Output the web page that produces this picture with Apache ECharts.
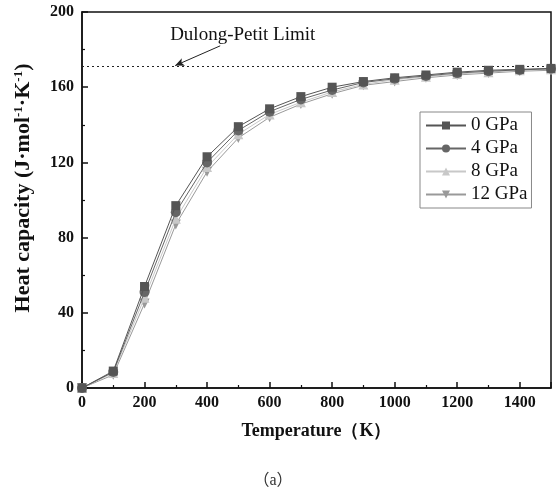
<!DOCTYPE html>
<html><head><meta charset="utf-8">
<script src="https://cdn.jsdelivr.net/npm/echarts@6/dist/echarts.min.js"></script>
<style>html,body{margin:0;padding:0;background:#fff}#c{width:560px;height:494px}</style>
</head><body><div id="c"></div>
<script>
const temps = [0,100,200,300,400,500,600,700,800,900,1000,1100,1200,1300,1400,1500];
const seriesNames = ['0 GPa','4 GPa','8 GPa','12 GPa'];
const cp0  = [0,9,54,97,123,139,148.5,155,160,163,165,166.5,168,169,169.5,170];
const cp4  = [0,8.5,51,93.5,120,137,147,153.5,158.5,162.5,164.5,166,167.5,168.5,169.2,169.8];
const cp8  = [0,8,48,90,117.5,135,145.5,152,157.5,161.5,164,165.5,167,168,169,169.5];
const cp12 = [0,7,45,87,115,133,144,151,156.5,161,163,165,166.5,167.5,168.5,169];
const dulongPetit = 171;
const arrowFrom = [442, 182];
const arrowTo = [298, 171.5];
const annotationText = 'Dulong-Petit Limit';
const annotationPos = [514, 187.5];

const colors = ['#555555','#666666','#c8c8c8','#999999'];
const symbols = ['rect','circle','triangle','path://M0,0 L10,0 L5,9 Z'];
const allData = [cp0,cp4,cp8,cp12];
const serif = '"Liberation Serif","Times New Roman",serif';

const series = allData.map((d,i)=>({
  name: seriesNames[i], type:'line',
  data: temps.map((t,j)=>[t,d[j]]),
  symbol: symbols[i], symbolSize: i===0?9:10,
  itemStyle:{color:colors[i]}, lineStyle:{color:colors[i],width:1},
  z: 10-i
}));
series.push({
  name:'annot', type:'line', data:[], silent:true,
  markLine:{silent:true, symbol:['none','none'], label:{show:false},
    lineStyle:{type:[2,3],color:'#222',width:1.2},
    data:[[{coord:[0,dulongPetit]},{coord:[1500,dulongPetit]}]]},
  markPoint:{silent:true, symbol:'circle', symbolSize:0,
    label:{show:true, formatter:annotationText, fontFamily:serif, fontSize:19, color:'#111'},
    data:[{coord:annotationPos}]}
});
series.push({
  name:'arrow', type:'line', data:[], silent:true,
  markLine:{silent:true, symbol:['none','arrow'], symbolSize:[6,9], label:{show:false},
    lineStyle:{type:'solid',color:'#222',width:1},
    data:[[{coord:arrowFrom},{coord:arrowTo}]]}
});

const chart = echarts.init(document.getElementById('c'));
chart.setOption({
  animation:false,
  backgroundColor:'#fff',
  grid:{left:82,right:9,top:12,bottom:106,show:true,borderColor:'#111',borderWidth:1.5,backgroundColor:'transparent'},
  legend:{
    data:seriesNames, orient:'vertical', left:420, top:112,
    itemWidth:40, itemHeight:10, itemGap:4,
    padding:[4,4,4,5],
    borderColor:'#888', borderWidth:1, backgroundColor:'#fff',
    textStyle:{fontFamily:serif,fontSize:19,color:'#111'}
  },
  xAxis:{type:'value',min:0,max:1500,interval:200,
    name:'Temperature（K）', nameLocation:'middle', nameGap:34,
    nameTextStyle:{fontFamily:serif,fontSize:18,fontWeight:'bold',color:'#111'},
    axisLine:{show:true,lineStyle:{color:'#111',width:1.5}},
    axisTick:{show:true,inside:true,length:6,lineStyle:{color:'#111',width:1.5}},
    minorTick:{show:true,splitNumber:2,length:3,lineStyle:{color:'#111',width:1.2}},
    splitLine:{show:false},
    axisLabel:{fontFamily:serif,fontSize:16,fontWeight:'bold',color:'#111',margin:7,
      formatter:v=>v>1400?'':String(v)}
  },
  yAxis:{type:'value',min:0,max:200,interval:40,
    axisLine:{show:true,lineStyle:{color:'#111',width:1.5}},
    axisTick:{show:true,inside:true,length:6,lineStyle:{color:'#111',width:1.5}},
    minorTick:{show:true,splitNumber:2,length:3,lineStyle:{color:'#111',width:1.2}},
    splitLine:{show:false},
    axisLabel:{fontFamily:serif,fontSize:16,fontWeight:'bold',color:'#111',margin:8}
  },
  graphic:[
    {type:'text',x:273,y:481,style:{text:'（a）',font:'16px "Liberation Serif","Noto Sans CJK SC"',fill:'#333',align:'center',verticalAlign:'middle'}},
    {type:'text',x:23,y:188,rotation:Math.PI/2,style:{
      text:'{t|Heat capacity (J·mol}{s|-1}{t|·K}{s|-1}{t|)}',
      align:'center',verticalAlign:'middle',
      rich:{t:{fontFamily:serif,fontSize:22,fontWeight:'bold',fill:'#111',color:'#111'},
            s:{fontFamily:serif,fontSize:13,fontWeight:'bold',fill:'#111',color:'#111',verticalAlign:'top',padding:[0,0,9,0]}}
    }}
  ],
  series:series
});
</script></body></html>
